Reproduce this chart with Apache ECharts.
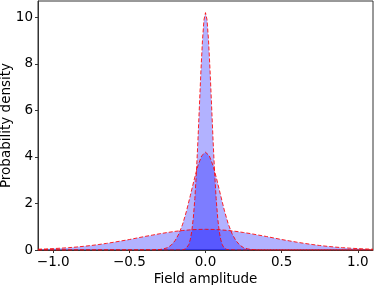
<!DOCTYPE html>
<html>
<head>
<meta charset="utf-8">
<script src="https://cdn.jsdelivr.net/npm/echarts@6/dist/echarts.min.js"></script>
<style>html,body{margin:0;padding:0;background:#fff}#c{width:374px;height:285px}</style>
</head>
<body>
<div id="c"></div>
<script>
// Tick labels
const xTicks = [-1.0, -0.5, 0.0, 0.5, 1.0];
const yTicks = [0, 2, 4, 6, 8, 10];

// Wide distribution
const wideX = [-1.1,-1.05,-1.0,-0.95,-0.9,-0.85,-0.8,-0.75,-0.7,-0.65,-0.6,-0.55,-0.5,-0.45,-0.4,-0.35,-0.3,-0.25,-0.2,-0.15,-0.1,-0.05,0,
               0.05,0.1,0.15,0.2,0.25,0.3,0.35,0.4,0.45,0.5,0.55,0.6,0.65,0.7,0.75,0.8,0.85,0.9,0.95,1.0,1.05,1.1];
const wideY = [0.034,0.045,0.060,0.078,0.100,0.126,0.158,0.194,0.237,0.284,0.336,0.393,0.45,0.515,0.58,0.639,0.70,0.752,0.80,0.838,0.866,0.884,0.89,
               0.884,0.866,0.838,0.80,0.752,0.70,0.639,0.58,0.515,0.45,0.393,0.336,0.284,0.237,0.194,0.158,0.126,0.100,0.078,0.060,0.045,0.034];

// Medium distribution
const midX = [-1.1,-0.4,-0.35,-0.3,-0.275,-0.25,-0.225,-0.2,-0.175,-0.15,-0.125,-0.1,-0.075,-0.05,-0.025,0,
              0.025,0.05,0.075,0.1,0.125,0.15,0.175,0.2,0.225,0.25,0.275,0.3,0.35,0.4,1.1];
const midY = [0,0,0.003,0.02,0.05,0.10,0.21,0.40,0.69,1.11,1.67,2.33,3.01,3.62,4.05,4.2,
              4.05,3.62,3.01,2.33,1.67,1.11,0.69,0.40,0.21,0.10,0.05,0.02,0.003,0,0];

// Narrow distribution
const narrowX = [-1.1,-0.2,-0.15,-0.14,-0.13,-0.12,-0.11,-0.1,-0.09,-0.08,-0.07,-0.06,-0.05,-0.04,-0.03,-0.02,-0.01,0,
                 0.01,0.02,0.03,0.04,0.05,0.06,0.07,0.08,0.09,0.1,0.11,0.12,0.13,0.14,0.15,0.2,1.1];
const narrowY = [0,0,0.008,0.02,0.05,0.11,0.23,0.45,0.81,1.38,2.21,3.31,4.67,6.19,7.70,9.0,9.89,10.2,
                 9.89,9.0,7.70,6.19,4.67,3.31,2.21,1.38,0.81,0.45,0.23,0.11,0.05,0.02,0.008,0,0];

const pairs = (xs, ys) => xs.map((x, i) => [x, ys[i]]);
const FONT = 'DejaVu Sans';
const fmt = v => (v < 0 ? '\u2212' : '') + Math.abs(v).toFixed(1);

function series(xs, ys) {
  return {
    type: 'line',
    data: pairs(xs, ys),
    showSymbol: false,
    smooth: false,
    lineStyle: { color: 'rgba(255,0,0,0.85)', width: 1, type: [4, 2] },
    areaStyle: { color: 'rgba(0,0,255,0.3)', opacity: 1, origin: 'start' },
    silent: true,
    animation: false
  };
}

const chart = echarts.init(document.getElementById('c'));
chart.setOption({
  animation: false,
  grid: { left: 38, right: 1, top: 1, bottom: 35, containLabel: false, outerBoundsMode: 'none',
          show: true, borderColor: '#333', borderWidth: 1, backgroundColor: 'transparent' },
  xAxis: {
    type: 'value', min: -1.1, max: 1.1,
    name: 'Field amplitude', nameLocation: 'middle', nameGap: 22, nameMoveOverlap: false,
    nameTextStyle: { fontFamily: FONT, fontSize: 13.5, color: '#000' },
    axisLine: { show: true, onZero: false, lineStyle: { color: '#333', width: 1 } },
    axisTick: { show: true, length: 3, customValues: xTicks, lineStyle: { color: '#333' } },
    axisLabel: { customValues: xTicks, formatter: fmt, margin: 5, fontFamily: FONT, fontSize: 13.5, color: '#000' },
    splitLine: { show: false }
  },
  yAxis: {
    type: 'value', min: 0, max: 10.7,
    name: 'Probability density', nameLocation: 'middle', nameGap: 25, nameMoveOverlap: false,
    nameTextStyle: { fontFamily: FONT, fontSize: 13.5, color: '#000' },
    axisLine: { show: true, onZero: false, lineStyle: { color: '#333', width: 1 } },
    axisTick: { show: true, length: 3, customValues: yTicks, lineStyle: { color: '#333' } },
    axisLabel: { customValues: yTicks, margin: 5, fontFamily: FONT, fontSize: 13.5, color: '#000' },
    splitLine: { show: false }
  },
  series: [series(wideX, wideY), series(midX, midY), series(narrowX, narrowY)]
});
</script>
</body>
</html>
